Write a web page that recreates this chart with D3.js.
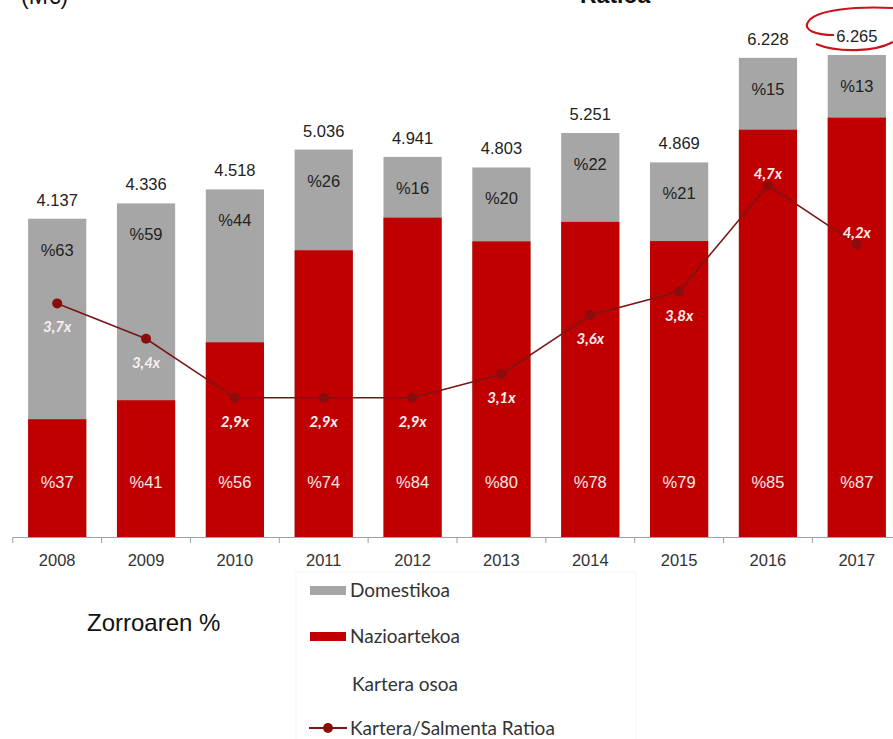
<!DOCTYPE html>
<html>
<head>
<meta charset="utf-8">
<script src="https://cdn.jsdelivr.net/npm/d3@7"></script>
<style>
  body { margin: 0; background: #fff; }
  svg { display: block; }
</style>
</head>
<body>
<svg id="chart" width="893" height="739"></svg>
<script>
const years = ["2008", "2009", "2010", "2011", "2012", "2013", "2014", "2015", "2016", "2017"];
const totals = [4137, 4336, 4518, 5036, 4941, 4803, 5251, 4869, 6228, 6265];
const domesticPct = [63, 59, 44, 26, 16, 20, 22, 21, 15, 13];
const intlPct = [37, 41, 56, 74, 84, 80, 78, 79, 85, 87];
const ratios = [3.7, 3.4, 2.9, 2.9, 2.9, 3.1, 3.6, 3.8, 4.7, 4.2];
const legendLabels = ["Domestikoa", "Nazioartekoa", "Kartera osoa", "Kartera/Salmenta Ratioa"];

const grey = "#a6a6a6";
const red = "#c00000";
const lineColor = "#7a1616";
const sans = "Liberation Sans, Arial, sans-serif";

const svg = d3.select("#chart");
const baseY = 537;

const x = d3.scaleBand().domain(years).range([13, 901]).paddingInner(0.345).paddingOuter(0.17);
const y = d3.scaleLinear().domain([0, 6265]).range([baseY, 55]);
const yR = d3.scaleLinear().domain([0, 5]).range([740, 150]);

const fmt = v => d3.format(",")(v).replace(",", ".");
const cx = d => x(d.year) + x.bandwidth() / 2;

const rows = years.map((yr, i) => ({
    year: yr, total: totals[i], dom: domesticPct[i], intl: intlPct[i], ratio: ratios[i]
}));

// gray (domestic) = full bar, red (international) on bottom
svg.selectAll(".dom").data(rows).enter().append("rect")
    .attr("x", d => x(d.year))
    .attr("width", x.bandwidth())
    .attr("y", d => y(d.total))
    .attr("height", d => baseY - y(d.total))
    .attr("fill", grey);

svg.selectAll(".intl").data(rows).enter().append("rect")
    .attr("x", d => x(d.year))
    .attr("width", x.bandwidth())
    .attr("y", d => y(d.total * d.intl / 100))
    .attr("height", d => baseY - y(d.total * d.intl / 100))
    .attr("fill", red);

// axis line + ticks between bands
svg.append("line")
    .attr("x1", 13).attr("x2", 893).attr("y1", baseY + 0.5).attr("y2", baseY + 0.5)
    .attr("stroke", "#a0a0a0").attr("stroke-width", 1);
const step = x.step();
years.forEach(yr => {
    const tx = x(yr) - step * x.paddingInner() / 2;
    svg.append("line")
        .attr("x1", tx).attr("x2", tx).attr("y1", baseY).attr("y2", baseY + 6)
        .attr("stroke", "#a0a0a0");
});

svg.selectAll(".xlab").data(rows).enter().append("text")
    .attr("x", cx)
    .attr("y", 566)
    .attr("text-anchor", "middle")
    .attr("font-family", sans)
    .attr("font-size", 16.5)
    .attr("fill", "#333")
    .text(d => d.year);

// totals above bars
svg.selectAll(".tot").data(rows).enter().append("text")
    .attr("x", cx)
    .attr("y", d => y(d.total) - 13)
    .attr("text-anchor", "middle")
    .attr("font-family", sans)
    .attr("font-size", 16.5)
    .attr("fill", "#222")
    .text(d => fmt(d.total));

svg.selectAll(".dlab").data(rows).enter().append("text")
    .attr("x", cx)
    .attr("y", d => y(d.total) + 37)
    .attr("text-anchor", "middle")
    .attr("font-family", sans)
    .attr("font-size", 16.5)
    .attr("fill", "#222")
    .text(d => "%" + d.dom);

svg.selectAll(".ilab").data(rows).enter().append("text")
    .attr("x", cx)
    .attr("y", 488)
    .attr("text-anchor", "middle")
    .attr("font-family", sans)
    .attr("font-size", 16.5)
    .attr("fill", "#f6e8e8")
    .text(d => "%" + d.intl);

// ratio line
const line = d3.line().x(cx).y(d => yR(d.ratio));
svg.append("path").datum(rows)
    .attr("d", line)
    .attr("fill", "none")
    .attr("stroke", lineColor)
    .attr("stroke-width", 1.6);
svg.selectAll(".pt").data(rows).enter().append("circle")
    .attr("cx", cx)
    .attr("cy", d => yR(d.ratio))
    .attr("r", 5)
    .attr("fill", "#8b0c0c");

const labelAbove = ["2016", "2017"];
svg.selectAll(".rlab").data(rows).enter().append("text")
    .attr("x", cx)
    .attr("y", d => yR(d.ratio) + (labelAbove.includes(d.year) ? -6 : 29))
    .attr("text-anchor", "middle")
    .attr("font-family", "Lato, sans-serif")
    .attr("font-size", 15)
    .attr("font-weight", "bold")
    .attr("font-style", "italic")
    .attr("fill", "#fbeeee")
    .text(d => String(d.ratio).replace(".", ",") + "x");

// hand drawn circle around last total
svg.append("path")
    .attr("d", "M834,35 C815,35 803,30 808,22 C815,10 855,6 893,8")
    .attr("fill", "none").attr("stroke", "#c8141c").attr("stroke-width", 2.2);
svg.append("path")
    .attr("d", "M816,44 C838,53 875,52 893,42")
    .attr("fill", "none").attr("stroke", "#c8141c").attr("stroke-width", 2.2);

// titles (cut at top edge, as in the source)
svg.append("text").attr("x", 21).attr("y", 4)
    .attr("font-family", sans).attr("font-size", 23)
    .attr("fill", "#111").text("(M€)");
svg.append("text").attr("x", 580).attr("y", 3)
    .attr("font-family", sans).attr("font-size", 23)
    .attr("font-weight", "bold").attr("fill", "#111").text("Ratioa");

svg.append("text").attr("x", 87).attr("y", 631)
    .attr("font-family", sans).attr("font-size", 24)
    .attr("fill", "#111").text("Zorroaren %");

// legend
const legend = svg.append("g");
legend.append("rect").attr("x", 296).attr("y", 572).attr("width", 340).attr("height", 180)
    .attr("fill", "none").attr("stroke", "#f6f6f6");
const legY = [590, 636, 684, 728];
legend.append("rect").attr("x", 310).attr("y", 586).attr("width", 36).attr("height", 9).attr("fill", grey);
legend.append("rect").attr("x", 310).attr("y", 632).attr("width", 36).attr("height", 9).attr("fill", red);
legend.append("line").attr("x1", 309).attr("x2", 347).attr("y1", 728).attr("y2", 728)
    .attr("stroke", lineColor).attr("stroke-width", 2);
legend.append("circle").attr("cx", 328).attr("cy", 728).attr("r", 5).attr("fill", "#8b0c0c");
legendLabels.forEach((t, i) => {
    legend.append("text")
        .attr("x", i === 2 ? 352 : 350)
        .attr("y", legY[i] + 7)
        .attr("font-family", "Lato, sans-serif")
        .attr("font-size", 19)
        .attr("fill", "#333")
        .text(t);
});
</script>
</body>
</html>
